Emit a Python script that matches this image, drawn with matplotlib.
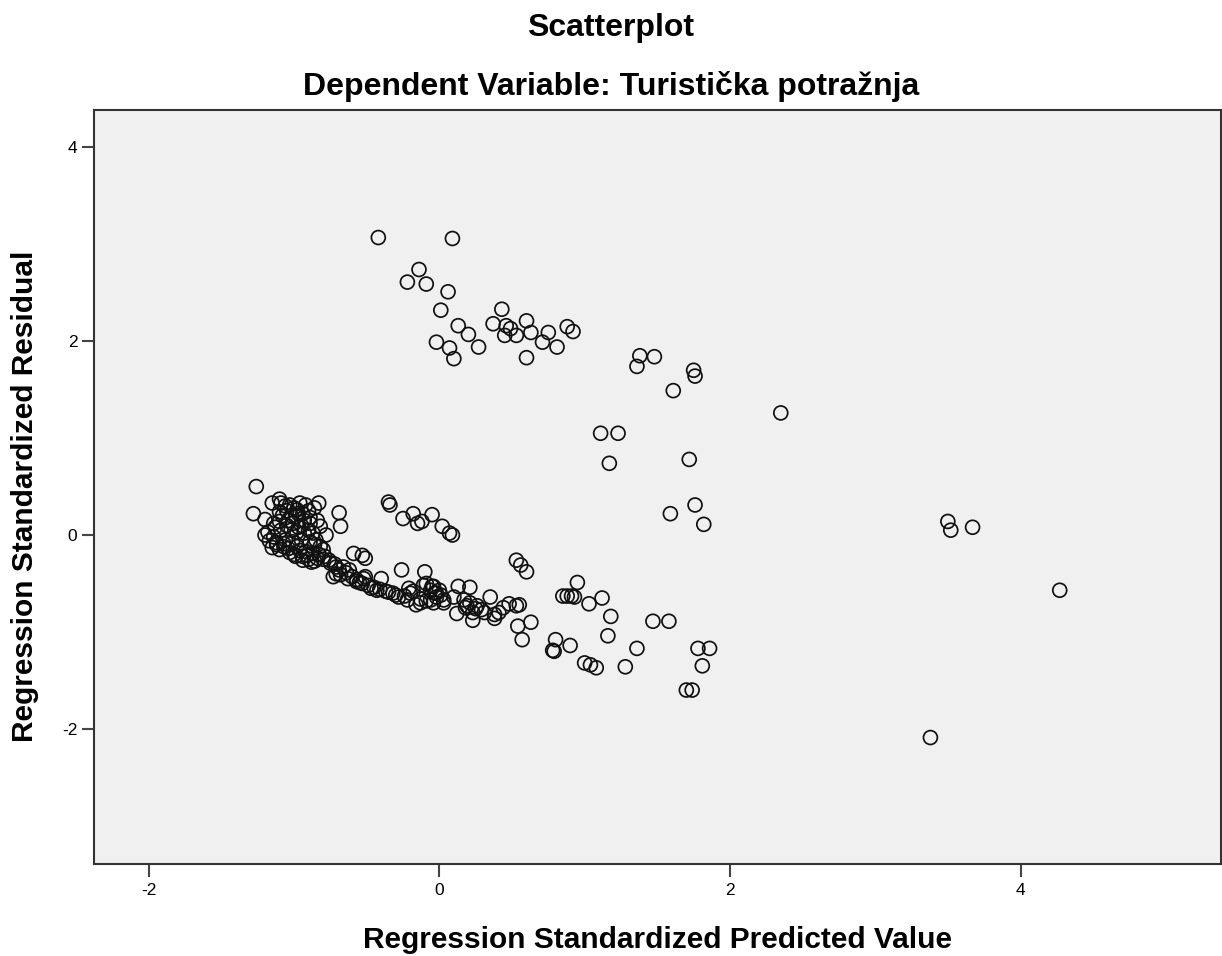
import matplotlib
matplotlib.use("Agg")
import matplotlib.pyplot as plt

# gornja skupina + desni izdvojeni
x_gore = [-0.42, 0.09, -0.14, -0.22, -0.09, 0.06, 0.01, 0.13, 0.20, -0.02, 0.07, 0.10, 0.27,
          0.43, 0.37, 0.46, 0.49, 0.45, 0.53, 0.60, 0.63, 0.60, 0.75, 0.71, 0.81, 0.88, 0.92,
          1.38, 1.48, 1.36, 1.75, 1.76, 1.61, 2.35, 1.11, 1.23, 1.17, 1.72, 1.59, 1.76, 1.82,
          3.50, 3.52, 3.67, 4.27, 3.38]
y_gore = [3.07, 3.06, 2.74, 2.61, 2.59, 2.51, 2.32, 2.16, 2.07, 1.99, 1.93, 1.82, 1.94,
          2.33, 2.18, 2.16, 2.13, 2.06, 2.06, 2.21, 2.09, 1.83, 2.09, 1.99, 1.94, 2.15, 2.10,
          1.85, 1.84, 1.74, 1.70, 1.64, 1.49, 1.26, 1.05, 1.05, 0.74, 0.78, 0.22, 0.31, 0.11,
          0.14, 0.05, 0.08, -0.57, -2.09]

# donja desna skupina
x_desno = [0.95, 0.85, 0.88, 0.91, 0.93, 1.03, 1.12, 1.18, 1.16, 1.47, 1.58, 0.80, 0.79, 0.78,
           0.90, 1.00, 1.04, 1.08, 1.28, 1.36, 1.78, 1.86, 1.81, 1.70, 1.74]
y_desno = [-0.49, -0.63, -0.63, -0.63, -0.64, -0.71, -0.65, -0.84, -1.04, -0.89, -0.89, -1.08,
           -1.20, -1.19, -1.14, -1.32, -1.34, -1.37, -1.36, -1.17, -1.17, -1.17, -1.35, -1.60, -1.60]

# srednji dio (oko nule)
x_sredina = [-0.05, -0.12, 0.02, 0.07, 0.09, 0.53, 0.56, 0.60, -0.10, -0.13,
             0.13, 0.21, 0.10, 0.12, 0.23, 0.35, 0.38, 0.41, 0.48, 0.53, 0.55, 0.54, 0.63, 0.57,
             -0.09, -0.04, 0.00, -0.02, -0.04, 0.03, -0.06, 0.03,
             0.17, 0.21, 0.26, 0.29, 0.19, 0.23, 0.38,
             -0.03, 0.01, 0.18, 0.25, 0.31, 0.44]
y_sredina = [0.21, 0.14, 0.09, 0.02, 0.00, -0.26, -0.31, -0.38, -0.38, -0.70,
             -0.53, -0.54, -0.64, -0.81, -0.88, -0.64, -0.82, -0.80, -0.71, -0.73, -0.72, -0.94, -0.90, -1.08,
             -0.50, -0.53, -0.57, -0.64, -0.70, -0.70, -0.67, -0.67,
             -0.67, -0.70, -0.73, -0.77, -0.73, -0.80, -0.86,
             -0.60, -0.62, -0.75, -0.76, -0.80, -0.75]

# lijevi pojas
x_lijevo = [-0.35, -0.34, -0.25, -0.18, -0.15,
            -0.59, -0.53, -0.51,
            -0.64, -0.60, -0.57, -0.52, -0.69, -0.73, -0.71, -0.75,
            -0.40, -0.43, -0.37, -0.32, -0.47, -0.28,
            -0.26, -0.20, -0.16, -0.21, -0.18, -0.22, -0.11, -0.06, -0.05, -0.02,
            -0.71, -0.66, -0.62, -0.57, -0.53, -0.51,
            -0.68, -0.63, -0.55, -0.49, -0.45, -0.41, -0.35, -0.30, -0.24, -0.13, -0.09]
y_lijevo = [0.34, 0.31, 0.17, 0.22, 0.12,
            -0.19, -0.21, -0.24,
            -0.39, -0.43, -0.48, -0.45, -0.36, -0.43, -0.33, -0.29,
            -0.45, -0.57, -0.58, -0.60, -0.55, -0.64,
            -0.36, -0.60, -0.72, -0.55, -0.58, -0.67, -0.52, -0.57, -0.53, -0.60,
            -0.40, -0.33, -0.36, -0.46, -0.50, -0.43,
            -0.41, -0.45, -0.49, -0.52, -0.54, -0.56, -0.59, -0.62, -0.63, -0.66, -0.68]

# gusta nakupina lijevo
x_nakupina = [-1.26, -1.28, -1.20, -1.15, -1.10, -1.09, -1.03, -0.96, -0.92, -0.83, -0.69, -0.68,
              -1.10, -1.04, -0.99, -0.95, -0.89, -0.84, -0.82, -0.78,
              -1.18, -1.14,
              -1.15, -1.10, -1.04, -0.98, -0.92, -0.87, -0.82, -0.79,
              -1.06, -1.01, -0.95, -0.89, -0.98,
              -0.94, -0.88, -0.84,
              -1.05, -1.00, -0.97, -1.02, -0.93, -0.87, -1.13, -1.07, -0.91, -1.00,
              -0.96, -0.85, -0.80, -1.08, -0.90, -0.86, -1.12, -1.20, -0.76, -0.72,
              -1.17, -1.12, -1.07, -1.03, -0.99, -0.94, -0.90, -0.86, -1.09, -1.05,
              -1.01, -0.97, -0.93, -0.89, -1.14, -1.10, -1.06, -1.02, -0.98, -0.94,
              -0.90, -0.86, -0.83, -0.80]
y_nakupina = [0.50, 0.22, 0.16, 0.33, 0.37, 0.33, 0.31, 0.33, 0.31, 0.33, 0.23, 0.09,
              0.14, 0.15, 0.19, 0.10, 0.12, 0.15, 0.09, 0.00,
              0.03, -0.02,
              -0.13, -0.15, -0.14, -0.12, -0.17, -0.19, -0.12, -0.22,
              -0.05, -0.07, -0.05, -0.07, 0.03,
              -0.26, -0.28, -0.24,
              0.25, 0.28, 0.22, 0.05, 0.02, 0.02, 0.08, -0.09, -0.21, -0.20,
              -0.16, -0.05, -0.15, 0.20, 0.25, 0.28, -0.08, 0.00, -0.26, -0.30,
              -0.06, -0.10, -0.12, -0.18, -0.22, -0.22, -0.25, -0.27, 0.05, 0.10,
              0.12, 0.08, 0.15, 0.18, 0.12, 0.24, 0.30, 0.20, 0.26, 0.22,
              0.05, -0.10, -0.20, -0.25]

x_sve = x_gore + x_desno + x_sredina + x_lijevo + x_nakupina
y_sve = y_gore + y_desno + y_sredina + y_lijevo + y_nakupina

plt.rcParams["font.family"] = ["Liberation Sans", "DejaVu Sans"]
plt.rcParams["axes.unicode_minus"] = False

fig = plt.figure(figsize=(12.22, 9.56), dpi=100)
ax = fig.add_axes([94 / 1222, 1 - 864 / 956, 1127 / 1222, 754 / 956])
ax.set_facecolor("#f0f0f0")

ax.scatter(x_sve, y_sve, s=100, facecolors="none", edgecolors="#111111", linewidths=1.25, zorder=3)

ax.set_xlim(-2.377, 5.38)
ax.set_ylim(-3.395, 4.386)
ax.set_xticks([-2, 0, 2, 4])
ax.set_yticks([-2, 0, 2, 4])
ax.tick_params(direction="out", length=9, width=1.5, color="#444444", labelsize=12.5, pad=3)
ax.tick_params(axis="x", pad=5)

for s in ["top", "right", "left", "bottom"]:
    ax.spines[s].set_color("#333333")
    ax.spines[s].set_linewidth(1.5)

ax.set_xlabel("Regression Standardized Predicted Value", fontsize=21.5, fontweight="bold", labelpad=20)
ax.set_ylabel("Regression Standardized Residual", fontsize=21.5, fontweight="bold")
ax.yaxis.set_label_coords(-0.049, 0.487)

fig.text(0.5, 1 - 28 / 956, "Scatterplot", ha="center", va="center", fontsize=23, fontweight="bold")
fig.text(0.5, 1 - 87 / 956, "Dependent Variable: Turistička potražnja", ha="center", va="center",
         fontsize=23, fontweight="bold")

fig.savefig("out.png", dpi=100)
